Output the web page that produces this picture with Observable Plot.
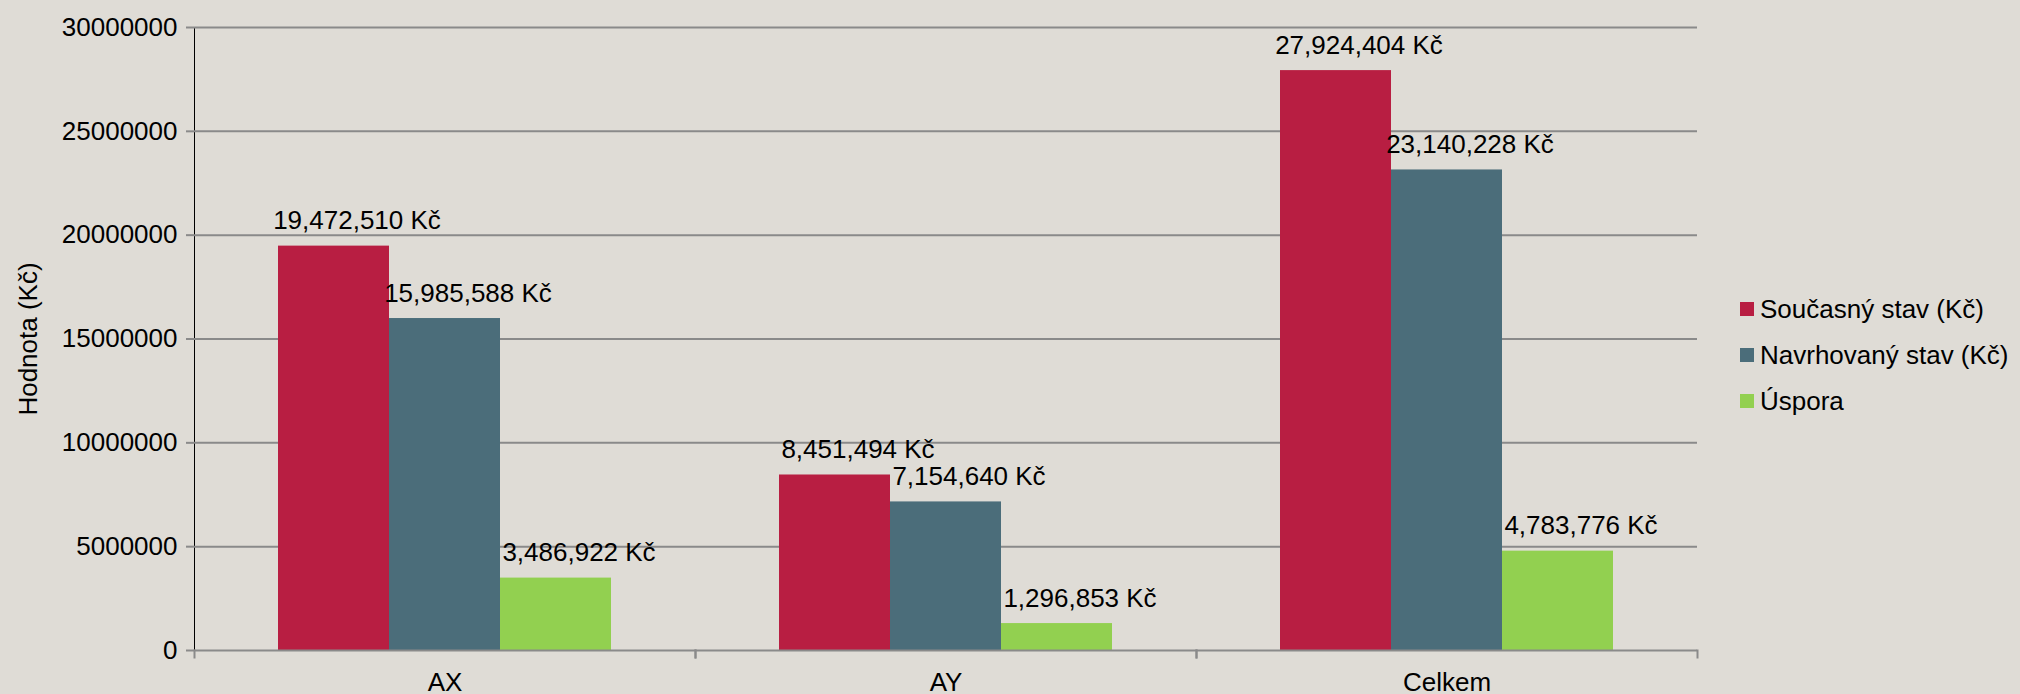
<!DOCTYPE html>
<html>
<head>
<meta charset="utf-8">
<script src="https://cdn.jsdelivr.net/npm/d3@7"></script>
<script src="https://cdn.jsdelivr.net/npm/@observablehq/plot@0.6"></script>
<style>
  html, body { margin: 0; padding: 0; background: #dfdcd6; }
  #wrap { position: relative; width: 2020px; height: 694px; font-family: "Liberation Sans", Arial, sans-serif; }
  #legend { position: absolute; left: 1740px; top: 286px; font-size: 26px; color: #000; }
  #legend .row { display: flex; align-items: center; height: 46px; }
  #legend .sw { width: 14px; height: 14px; margin-right: 6px; }
</style>
</head>
<body>
<div id="wrap"></div>
<script>
const categories = ["AX", "AY", "Celkem"];
const seriesNames = ["Současný stav (Kč)", "Navrhovaný stav (Kč)", "Úspora"];
const seriesColors = ["#b81e42", "#4b6d7a", "#92d050"];
const soucasny = [19472510, 8451494, 27924404];
const navrhovany = [15985588, 7154640, 23140228];
const uspora = [3486922, 1296853, 4783776];
const yTicks = [0, 5000000, 10000000, 15000000, 20000000, 25000000, 30000000];

const seriesValues = [soucasny, navrhovany, uspora];
const data = [];
categories.forEach((c, i) => {
  seriesNames.forEach((s, j) => data.push({category: c, series: s, value: seriesValues[j][i]}));
});
const fmt = d3.format(",");

const grid = "#8a8a8a";
const chart = Plot.plot({
  width: 2020,
  height: 694,
  marginLeft: 193,
  marginRight: 322,
  marginTop: 27,
  marginBottom: 44,
  style: {fontFamily: "'Liberation Sans', Arial, sans-serif", fontSize: "26px", background: "transparent", color: "#000", overflow: "visible"},
  fx: {domain: categories, padding: 0, axis: "bottom", tickSize: 0, tickPadding: 22, label: null},
  x: {domain: seriesNames, axis: null, paddingInner: 0, paddingOuter: 0.755},
  y: {domain: [0, 30000000], ticks: yTicks, tickFormat: d => String(d), tickSize: 8, tickPadding: 9,
      label: "Hodnota (Kč)", labelAnchor: "center", labelOffset: 176, labelArrow: "none", line: true},
  color: {domain: seriesNames, range: seriesColors},
  marks: [
    Plot.ruleY(yTicks.slice(1), {stroke: grid, strokeWidth: 2, strokeOpacity: 1}),
    Plot.barY(data, {fx: "category", x: "series", y: "value", fill: "series"}),
    Plot.ruleY([0], {stroke: grid, strokeWidth: 2, strokeOpacity: 1}),
    Plot.frame({anchor: "left", stroke: grid, strokeWidth: 2, strokeOpacity: 1, insetTop: 623, insetBottom: -7}),
    Plot.frame({anchor: "right", stroke: grid, strokeWidth: 2, strokeOpacity: 1, insetTop: 623, insetBottom: -7}),
    Plot.text(data, {fx: "category", x: "series", y: "value", text: d => fmt(d.value) + " Kč",
      lineAnchor: "bottom", dy: -17, dx: 23, fill: "#000", fontSize: 26})
  ]
});
chart.querySelectorAll("[aria-label='y-axis tick'] path, [aria-label='y-axis line'] path, [aria-label='y-axis tick'], [aria-label='y-axis line']").forEach(el => {
  el.setAttribute("stroke", grid); el.setAttribute("stroke-width", 2); el.setAttribute("stroke-opacity", 1);
});
const wrap = document.getElementById("wrap");
wrap.appendChild(chart);

const legend = document.createElement("div");
legend.id = "legend";
seriesNames.forEach((s, i) => {
  const row = document.createElement("div");
  row.className = "row";
  const sw = document.createElement("div");
  sw.className = "sw";
  sw.style.background = seriesColors[i];
  const t = document.createElement("span");
  t.textContent = s;
  row.appendChild(sw); row.appendChild(t);
  legend.appendChild(row);
});
wrap.appendChild(legend);
</script>
</body>
</html>
